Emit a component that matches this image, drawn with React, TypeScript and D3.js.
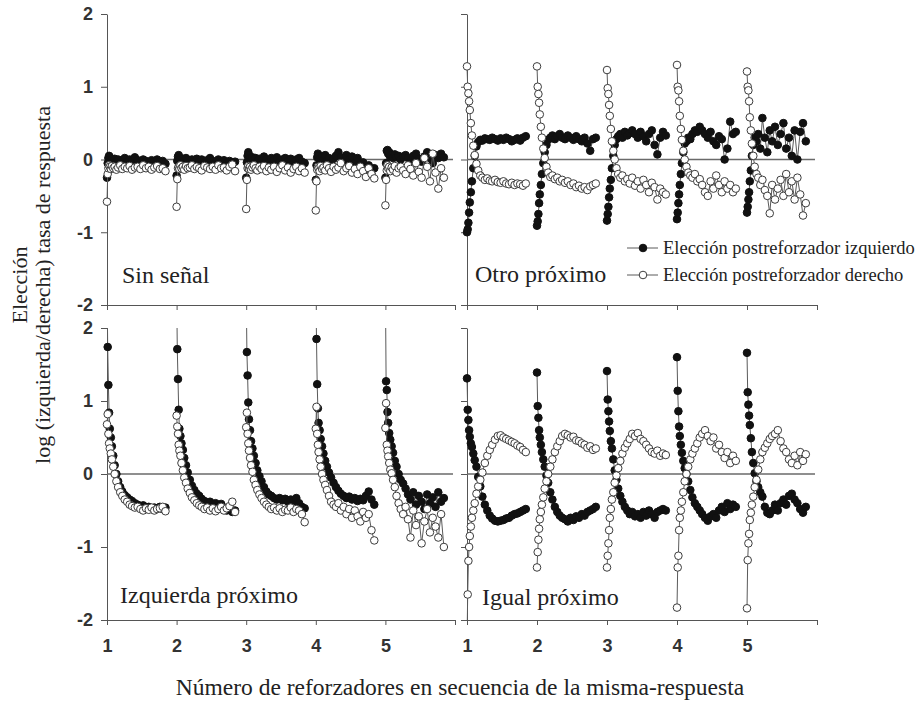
import React, {useEffect, useRef} from "react";
import * as d3 from "d3";

// posición de cada respuesta dentro de la secuencia (fracción después del reforzador)
const responseOffsets = [0, 0.01, 0.02, 0.03, 0.04, 0.055, 0.07, 0.09, 0.11, 0.135, 0.16, 0.19, 0.22, 0.255, 0.29, 0.325, 0.36, 0.4, 0.44, 0.48, 0.52, 0.56, 0.6, 0.64, 0.68, 0.72, 0.76, 0.8, 0.84]
const reinforcers = [1, 2, 3, 4, 5]
const xTicks = [1, 2, 3, 4, 5, 6]
const xTickLabels = ["1", "2", "3", "4", "5"]
const yTicks = [-2, -1, 0, 1, 2]

// Sin señal
const sinSenalIzq = [
    [-.25, -.05, .02, .05, .03, -.02, 0, -.03, .01, -.02, 0, -.04, -.01, .02, -.03, 0, -.02, .03, -.01, -.04, 0, -.02, -.05, -.01, -.03, 0, -.04, -.02, -.06],
    [-.22, -.02, .04, .06, .02, 0, -.03, .01, -.02, .02, -.01, -.04, 0, -.02, .01, -.03, 0, -.05, -.01, .02, -.02, -.04, 0, -.03, -.01, -.05, -.02, -.04, -.03],
    [-.25, -.04, .05, .1, .06, .02, -.02, .03, 0, .02, -.03, .01, -.02, .04, 0, -.03, .02, -.01, .03, -.04, 0, .02, -.02, .01, -.05, 0, .02, -.03, -.05],
    [-.28, -.08, .03, .08, .05, .01, -.03, .04, 0, .06, -.02, .02, -.05, .01, .05, .1, .03, -.02, .06, 0, .04, -.05, .02, -.1, -.04, -.15, -.08, -.2, -.12],
    [-.25, -.05, .12, .13, .08, .1, .04, .06, .02, .07, .03, .05, 0, .04, .06, .02, -.02, .05, .08, .01, -.03, .04, .1, .02, -.05, .06, .02, .08, .03],
]
const sinSenalDer = [
    [-.58, -.2, -.12, -.08, -.1, -.13, -.09, -.12, -.1, -.14, -.11, -.08, -.13, -.1, -.12, -.09, -.14, -.11, -.1, -.13, -.08, -.12, -.1, -.14, -.11, -.09, -.13, -.12, -.16],
    [-.65, -.27, -.12, -.1, -.13, -.08, -.12, -.1, -.14, -.09, -.12, -.11, -.08, -.13, -.1, -.12, -.15, -.09, -.11, -.13, -.1, -.14, -.08, -.12, -.11, -.15, -.1, -.07, -.16],
    [-.68, -.28, -.12, -.09, -.13, -.1, -.14, -.11, -.08, -.12, -.15, -.1, -.13, -.09, -.16, -.11, -.14, -.1, -.17, -.12, -.08, -.15, -.11, -.18, -.13, -.1, -.16, -.12, -.18],
    [-.7, -.3, -.14, -.1, -.12, -.16, -.09, -.13, -.11, -.15, -.08, -.12, -.17, -.1, -.14, -.11, -.05, -.16, -.12, -.09, -.18, -.13, -.2, -.1, -.16, -.24, -.12, -.2, -.26],
    [-.63, -.28, -.15, -.08, -.12, -.1, -.16, -.11, -.14, -.09, -.18, -.12, -.1, -.15, -.2, -.08, -.13, -.22, -.05, -.17, -.25, .02, -.1, -.3, .08, -.18, -.4, -.12, -.25],
]

// Otro próximo
const otroIzq = [
    [-1, -.96, -.87, -.73, -.59, -.45, -.3, -.12, .05, .18, .24, .27, .26, .29, .28, .27, .3, .28, .26, .29, .27, .3, .28, .25, .27, .29, .26, .3, .32],
    [-.91, -.85, -.75, -.6, -.48, -.35, -.2, -.05, .1, .2, .27, .3, .33, .28, .32, .35, .3, .28, .33, .3, .27, .32, .28, .25, .3, .22, .12, .28, .3],
    [-.84, -.75, -.65, -.52, -.4, -.28, -.12, .05, .2, .28, .32, .35, .3, .38, .33, .36, .4, .35, .3, .38, .32, .25, .35, .4, .2, .07, .3, .38, .33],
    [-.82, -.73, -.6, -.48, -.35, -.2, -.05, .1, .22, .25, .3, .28, .35, .4, .38, .45, .4, .35, .3, .38, .25, .2, .32, .28, 0, .15, .52, .35, .38],
    [-.73, -.65, -.55, -.45, -.3, -.15, .05, .2, .3, .25, .35, .15, .57, .3, .1, .4, .25, .45, .2, .35, .5, .15, .3, .05, .4, 0, .38, .5, .25],
]
const otroDer = [
    [1.28, 1, .91, .8, .68, .5, .33, .19, .06, -.06, -.15, -.22, -.25, -.28, -.26, -.29, -.3, -.28, -.31, -.32, -.3, -.33, -.34, -.32, -.35, -.33, -.34, -.36, -.33],
    [1.28, 1, .9, .78, .62, .45, .3, .15, .02, -.1, -.18, -.24, -.22, -.27, -.25, -.3, -.28, -.32, -.3, -.35, -.33, -.38, -.36, -.4, -.38, -.42, -.37, -.35, -.33],
    [1.23, .98, .9, .75, .6, .42, .25, .12, 0, -.12, -.2, -.25, -.22, -.3, -.27, -.33, -.25, -.36, -.3, -.4, -.28, -.35, -.45, -.32, -.38, -.55, -.4, -.45, -.48],
    [1.3, 1, .95, .8, .6, .42, .27, .12, 0, -.1, -.18, -.22, -.25, -.2, -.3, -.27, -.35, -.45, -.5, -.3, -.4, -.22, -.35, -.45, -.3, -.4, -.35, -.45, -.4],
    [1.21, 1, .95, .8, .58, .4, .22, .05, -.1, -.2, -.25, -.35, -.28, -.42, -.5, -.74, -.35, -.55, -.4, -.28, -.5, -.2, -.45, -.3, -.55, -.25, -.48, -.77, -.6],
]

// Izquierda próximo
const izquierdaIzq = [
    [2.6, 1.74, 1.22, .84, .62, .5, .38, .25, .12, 0, -.1, -.18, -.24, -.29, -.32, -.35, -.37, -.4, -.42, -.44, -.43, -.46, -.45, -.48, -.46, -.47, -.45, -.48, -.46],
    [2.6, 1.71, 1.3, .88, .62, .52, .42, .33, .22, .12, .02, -.08, -.16, -.22, -.27, -.3, -.34, -.37, -.4, -.38, -.42, -.4, -.44, -.41, -.46, -.5, -.47, -.52, -.5],
    [2.6, 1.67, 1.35, .98, .75, .6, .45, .35, .25, .15, .05, -.03, -.1, -.18, -.24, -.28, -.3, -.33, -.35, -.33, -.36, -.34, -.38, -.35, -.37, -.33, -.4, -.45, -.47],
    [2.6, 1.85, 1.23, .9, .7, .6, .48, .38, .28, .18, .1, .02, -.05, -.12, -.18, -.23, -.27, -.3, -.33, -.31, -.35, -.33, -.37, -.34, -.36, -.3, -.24, -.35, -.42],
    [2.6, 1.27, 1.15, .85, .7, .56, .47, .38, .29, .18, .1, 0, -.08, -.13, -.2, -.28, -.35, -.25, -.42, -.3, -.38, -.48, -.28, -.4, -.32, -.45, -.25, -.38, -.33],
]
const izquierdaDer = [
    [.68, .82, .55, .42, .35, .28, .2, .1, 0, -.1, -.18, -.25, -.3, -.35, -.38, -.42, -.44, -.46, -.45, -.48, -.5, -.47, -.49, -.46, -.5, -.48, -.47, -.45, -.51],
    [.8, .65, .55, .4, .32, .25, .15, .05, -.05, -.12, -.2, -.26, -.32, -.36, -.4, -.43, -.45, -.48, -.46, -.5, -.47, -.51, -.48, -.45, -.5, -.47, -.44, -.38, -.52],
    [.64, .84, .55, .42, .32, .22, .12, .03, -.08, -.15, -.22, -.28, -.33, -.38, -.42, -.45, -.48, -.46, -.5, -.47, -.52, -.49, -.5, -.46, -.52, -.48, -.5, -.55, -.66],
    [.62, .92, .55, .4, .3, .2, .1, 0, -.08, -.15, -.22, -.3, -.38, -.42, -.45, -.4, -.5, -.45, -.55, -.48, -.6, -.5, -.58, -.65, -.52, -.6, -.55, -.77, -.91],
    [.63, .97, .4, .32, .24, .15, .06, .01, -.08, -.18, -.3, -.4, -.48, -.55, -.45, -.62, -.87, -.5, -.7, -.58, -.95, -.65, -.48, -.8, -.6, -.72, -.87, -.55, -1],
]

// Igual próximo
const igualIzq = [
    [1.31, .88, .74, .6, .51, .42, .37, .28, .19, .1, -.04, -.17, -.31, -.42, -.5, -.57, -.61, -.64, -.65, -.64, -.63, -.61, -.6, -.57, -.55, -.54, -.52, -.5, -.48],
    [1.39, .93, .77, .6, .5, .4, .3, .2, .1, -.02, -.12, -.25, -.35, -.45, -.52, -.57, -.6, -.62, -.65, -.6, -.63, -.58, -.6, -.55, -.57, -.52, -.5, -.48, -.45],
    [1.41, 1.02, .86, .72, .59, .45, .35, .2, .05, -.08, -.2, -.3, -.38, -.45, -.5, -.55, -.52, -.58, -.55, -.6, -.52, -.57, -.5, -.55, -.6, -.52, -.5, -.48, -.5],
    [1.6, 1.14, .86, .65, .52, .4, .29, .18, .08, 0, -.1, -.22, -.32, -.4, -.45, -.5, -.55, -.6, -.64, -.58, -.55, -.6, -.5, -.45, -.52, -.4, -.48, -.42, -.45],
    [1.66, 1.12, .95, .8, .67, .49, .3, .15, .01, -.1, -.18, -.25, -.31, -.45, -.53, -.55, -.5, -.42, -.5, -.4, -.35, -.42, -.3, -.27, -.35, -.4, -.48, -.53, -.45],
]
const igualDer = [
    [-2.3, -1.65, -1.19, -1, -.85, -.72, -.6, -.5, -.4, -.27, -.17, -.08, .02, .15, .25, .33, .4, .47, .52, .53, .5, .48, .46, .44, .42, .39, .37, .33, .3],
    [-1.28, -1.07, -.9, -.75, -.62, -.52, -.42, -.32, -.2, -.1, 0, .1, .2, .3, .38, .45, .52, .55, .53, .5, .51, .46, .45, .42, .4, .36, .38, .33, .35],
    [-1.28, -1.12, -.95, -.77, -.6, -.48, -.35, -.25, -.12, -.02, .08, .18, .28, .36, .42, .48, .55, .52, .56, .48, .45, .4, .35, .3, .28, .32, .25, .28, .26],
    [-1.83, -1.28, -1.12, -.77, -.6, -.5, -.38, -.25, -.1, 0, .1, .2, .28, .35, .42, .5, .55, .6, .52, .45, .5, .35, .4, .3, .22, .3, .15, .25, .18],
    [-1.84, -1.18, -.95, -.82, -.63, -.53, -.42, -.31, -.18, -.08, .06, .2, .3, .36, .42, .48, .52, .55, .6, .45, .35, .3, .2, .15, .25, .12, .3, .18, .27],
]

const panels = [
    {title: "Sin señal", izq: sinSenalIzq, der: sinSenalDer, col: 0, row: 0, tx: 122, ty: 283},
    {title: "Otro próximo", izq: otroIzq, der: otroDer, col: 1, row: 0, tx: 475, ty: 282},
    {title: "Izquierda próximo", izq: izquierdaIzq, der: izquierdaDer, col: 0, row: 1, tx: 120, ty: 603},
    {title: "Igual próximo", izq: igualIzq, der: igualDer, col: 1, row: 1, tx: 482, ty: 605},
]

const legendItems = [
    {label: "Elección postreforzador izquierdo", filled: true},
    {label: "Elección postreforzador derecho", filled: false},
]

const serif = "'Liberation Serif', 'Times New Roman', serif"
const sans = "'Liberation Sans', Arial, sans-serif"
const lineColor = "#5a5a5a"
const markerR = 3.8

const App = () => {
    const svgRef = useRef(null)

    useEffect(() => {
        const svg = d3.select(svgRef.current)
        svg.selectAll("*").remove()

        panels.forEach((p, i) => {
            const xScale = d3.scaleLinear().domain([1, 6]).range(p.col === 0 ? [107, 455] : [467, 817])
            const yScale = d3.scaleLinear().domain([-2, 2]).range(p.row === 0 ? [305, 14] : [620, 328])

            const clipId = "clip-" + i
            svg.append("clipPath").attr("id", clipId)
                .append("rect")
                .attr("x", xScale(1) - 6).attr("y", yScale(2))
                .attr("width", xScale(6) - xScale(1) + 6).attr("height", yScale(-2) - yScale(2))

            // ejes
            const yAxis = d3.axisLeft(yScale).tickValues(yTicks).tickSizeInner(6).tickSizeOuter(0).tickPadding(8)
                .tickFormat((d: any) => p.col === 0 ? String(d) : "")
            svg.append("g")
                .attr("transform", `translate(${xScale(1)},0)`)
                .attr("color", "#555")
                .call(yAxis as any)
                .call(g => g.selectAll("text")
                    .attr("font-family", sans).attr("font-size", 18).attr("font-weight", "bold").attr("fill", "#333"))

            const xAxis = d3.axisBottom(xScale).tickValues(xTicks).tickSizeInner(5).tickSizeOuter(0).tickPadding(14)
                .tickFormat((d: any) => p.row === 1 && xTickLabels.includes(String(d)) ? String(d) : "")
            svg.append("g")
                .attr("transform", `translate(0,${yScale(-2)})`)
                .attr("color", "#555")
                .call(xAxis as any)
                .call(g => g.selectAll("text")
                    .attr("font-family", sans).attr("font-size", 18).attr("font-weight", "bold").attr("fill", "#333"))

            // línea del cero
            svg.append("line")
                .attr("x1", xScale(1)).attr("x2", xScale(6) - 2)
                .attr("y1", yScale(0)).attr("y2", yScale(0))
                .attr("stroke", "#6a6a6a").attr("stroke-width", 1.3)

            const myLine = d3.line<[number, number]>()
                .x(d => xScale(d[0]))
                .y(d => yScale(d[1]))

            const drawSeries = (series: number[][], filled: boolean) => {
                const g = svg.append("g").attr("clip-path", `url(#${clipId})`)
                series.forEach((seg, s) => {
                    const pts: [number, number][] = seg.map((v, j) => [reinforcers[s] + responseOffsets[j], v])
                    g.append("path")
                        .attr("d", myLine(pts))
                        .attr("fill", "none")
                        .attr("stroke", lineColor)
                        .attr("stroke-width", 1)
                    g.selectAll(null)
                        .data(pts)
                        .join("circle")
                        .attr("cx", d => xScale(d[0]))
                        .attr("cy", d => yScale(d[1]))
                        .attr("r", markerR)
                        .attr("fill", filled ? "#111" : "#fff")
                        .attr("stroke", filled ? "#111" : "#3c3c3c")
                        .attr("stroke-width", 1)
                })
            }
            drawSeries(p.izq, true)
            drawSeries(p.der, false)

            svg.append("text")
                .attr("x", p.tx).attr("y", p.ty)
                .attr("font-family", serif).attr("font-size", 24).attr("fill", "#222")
                .text(p.title)
        })

        // leyenda
        legendItems.forEach((item, i) => {
            const y = 248 + i * 27
            svg.append("line")
                .attr("x1", 627).attr("x2", 658).attr("y1", y).attr("y2", y)
                .attr("stroke", lineColor).attr("stroke-width", 1)
            svg.append("circle")
                .attr("cx", 643).attr("cy", y).attr("r", markerR)
                .attr("fill", item.filled ? "#111" : "#fff")
                .attr("stroke", item.filled ? "#111" : "#3c3c3c")
            svg.append("text")
                .attr("x", 663).attr("y", y + 6)
                .attr("font-family", serif).attr("font-size", 18.5).attr("fill", "#222")
                .text(item.label)
        })

        // títulos de los ejes
        svg.append("text")
            .attr("transform", "translate(27,285) rotate(-90)")
            .attr("text-anchor", "middle")
            .attr("font-family", serif).attr("font-size", 22).attr("fill", "#222")
            .text("Elección")
        svg.append("text")
            .attr("transform", "translate(50,285) rotate(-90)")
            .attr("text-anchor", "middle")
            .attr("font-family", serif).attr("font-size", 22).attr("fill", "#222")
            .text("log (izquierda/derecha) tasa de respuesta")
        svg.append("text")
            .attr("x", 460).attr("y", 695)
            .attr("text-anchor", "middle")
            .attr("font-family", serif).attr("font-size", 23.5).attr("fill", "#222")
            .text("Número de reforzadores en secuencia de la misma-respuesta")
    }, [])

    return (
        <svg ref={svgRef} width={922} height={702}
             style={{position: "absolute", left: 0, top: 0, background: "#fff"}}/>
    );
};

export default App;
